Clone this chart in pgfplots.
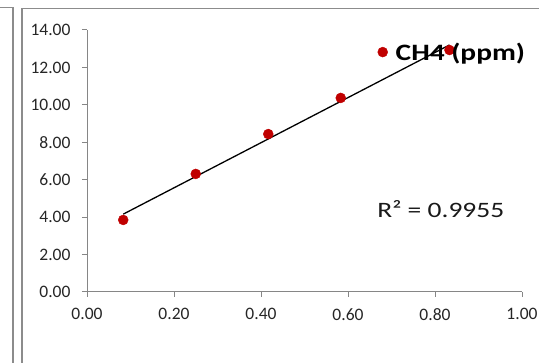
\documentclass[border=0pt]{standalone}
\usepackage{fontspec}
\setmainfont{Carlito}
\newfontfamily\widefont[FakeStretch=1.25]{Carlito}
\usepackage{pgfplots}
\pgfplotsset{compat=1.18}
\definecolor{ptred}{HTML}{C00000}
\definecolor{axgray}{HTML}{868686}
\definecolor{framegray}{HTML}{8C8C8C}
\begin{document}
\begin{tikzpicture}
\useasboundingbox (0,0) rectangle (539bp,363bp);
\draw[framegray, line width=1.3bp] (0,355.5bp) -- (13bp,355.5bp) -- (13bp,0);
\draw[framegray, line width=1.3bp] (22bp,0) -- (22bp,354.5bp) -- (539bp,354.5bp);
\begin{axis}[
  at={(87bp,71bp)}, anchor=south west,
  scale only axis, width=435bp, height=262bp,
  xmin=0, xmax=1, ymin=0, ymax=14,
  xtick={0,0.2,0.4,0.6,0.8,1}, ytick={0,2,4,6,8,10,12,14},
  axis x line*=bottom, axis y line*=left,
  axis line style={axgray, line width=1bp, -},
  tick style={axgray, line width=1bp},
  tick align=outside, major tick length=5bp,
  /pgf/number format/assume math mode=true,
  /pgf/number format/.cd, fixed, fixed zerofill, precision=2, /pgfplots/.cd,
  ticklabel style={font=\fontsize{17.5bp}{21bp}\selectfont, text=black!85},
  xticklabel style={yshift=-8bp},
  yticklabel style={xshift=-8bp},
  legend style={at={(axis cs:0.661,12.82)}, anchor=west, draw=none, fill=none,
    font=\widefont\bfseries\fontsize{23.5bp}{27bp}\selectfont},
  clip=false,
]
\addplot[only marks, mark=*, mark size=5bp, mark options={draw=ptred, fill=ptred}]
  coordinates {(0.0833,3.85) (0.25,6.31) (0.4167,8.44) (0.5833,10.37) (0.8333,12.93)};
\addlegendentry{\hspace{6bp}CH4 (ppm)}
\addplot[black, line width=1.3bp, forget plot]
  coordinates {(0.0833,4.16) (0.8333,13.20)};
\node[anchor=west, inner sep=0, font=\widefont\fontsize{22bp}{26bp}\selectfont, text=black!90]
  at (axis cs:0.667,4.43) {R² = 0.9955};
\end{axis}
\end{tikzpicture}
\end{document}
